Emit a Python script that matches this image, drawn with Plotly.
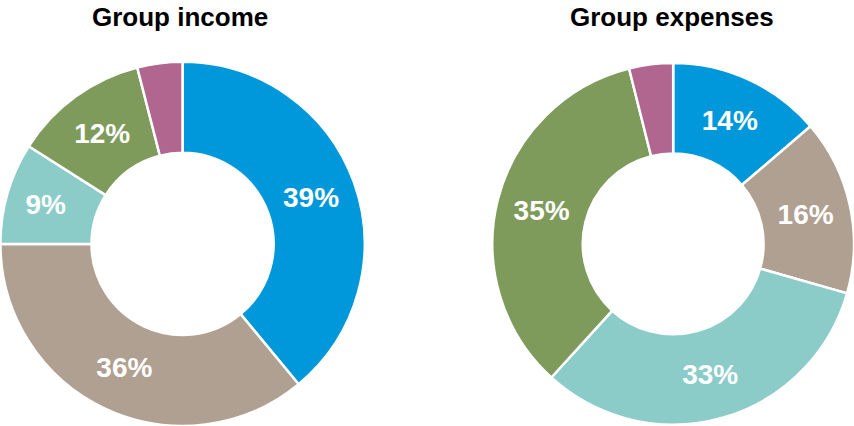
import plotly.graph_objects as go

# Segment shares (percent) in drawing order, clockwise from 12 o'clock
segments = ["Segment A", "Segment B", "Segment C", "Segment D", "Segment E"]
income_values = [39, 36, 9, 12, 4]
expense_values = [14, 16, 33, 35, 4]
income_labels = ["39%", "36%", "9%", "12%", ""]
expense_labels = ["14%", "16%", "33%", "35%", ""]

colors = ["#0098da", "#b0a092", "#8bccc9", "#7e9b5c", "#b0668f"]
font_family = "Liberation Sans, Arial, sans-serif"


def donut(values, labels, xdom):
    return go.Pie(
        labels=segments,
        values=values,
        text=labels,
        texttemplate="%{text}",
        textinfo="text",
        textposition="inside",
        insidetextorientation="horizontal",
        textfont=dict(family=font_family, size=28, color="white", weight="bold"),
        marker=dict(colors=colors, line=dict(color="white", width=2.5)),
        hole=0.5,
        sort=False,
        direction="clockwise",
        rotation=0,
        domain=dict(x=xdom, y=[0, 0.855]),
        hoverinfo="label+percent",
        showlegend=False,
    )


fig = go.Figure()
fig.add_trace(donut(income_values, income_labels, [0.0, 0.4275]))
fig.add_trace(donut(expense_values, expense_labels, [0.5765, 1.0]))

titles = [("Group income", 180 / 854), ("Group expenses", 672 / 854)]
for text, x in titles:
    fig.add_annotation(
        text=f"<b>{text}</b>",
        x=x, y=1 - 17 / 426,
        xref="paper", yref="paper",
        xanchor="center", yanchor="middle",
        showarrow=False,
        font=dict(family=font_family, size=26, color="black"),
    )

fig.update_layout(
    width=854,
    height=426,
    margin=dict(l=0, r=0, t=0, b=0),
    paper_bgcolor="white",
    plot_bgcolor="white",
    showlegend=False,
)

fig.write_html("out.html")
